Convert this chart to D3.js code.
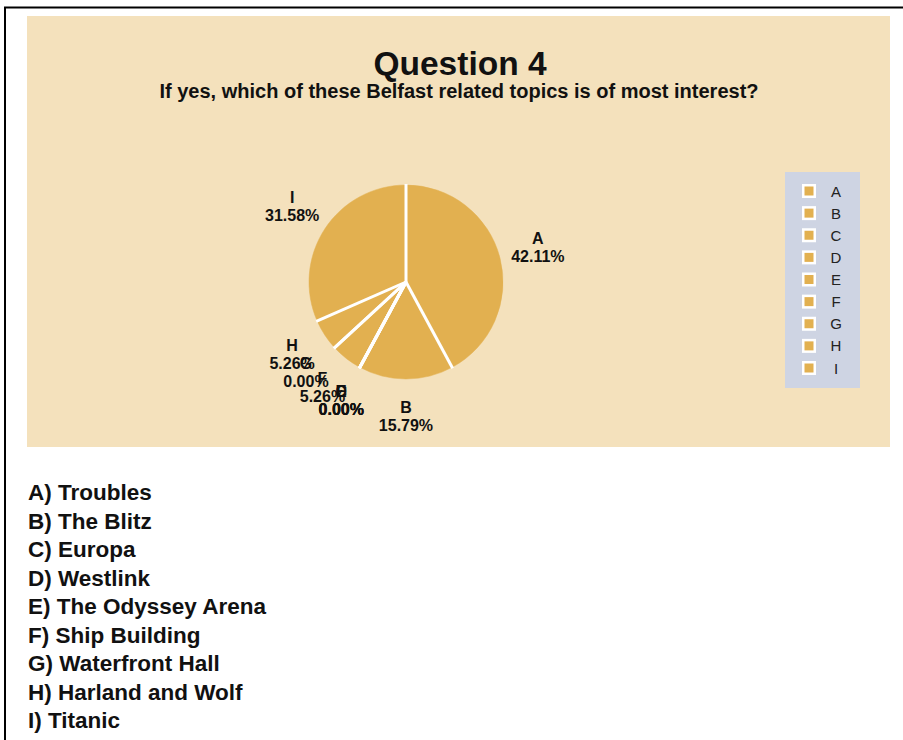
<!DOCTYPE html>
<html>
<head>
<meta charset="utf-8">
<script src="https://cdn.jsdelivr.net/npm/d3@7"></script>
<style>
  html, body { margin: 0; padding: 0; background: #fff; }
  svg { display: block; font-family: "Liberation Sans", Arial, sans-serif; }
</style>
</head>
<body>
<div id="chart"></div>
<script>
// answer letters, their share of votes (%) and the topic each letter stands for
const letters = ['A', 'B', 'C', 'D', 'E', 'F', 'G', 'H', 'I'];
const percents = [42.11, 15.79, 0.00, 0.00, 0.00, 5.26, 0.00, 5.26, 31.58];
const topics = ['Troubles', 'The Blitz', 'Europa', 'Westlink', 'The Odyssey Arena',
                'Ship Building', 'Waterfront Hall', 'Harland and Wolf', 'Titanic'];
const title = 'Question 4';
const subtitle = 'If yes, which of these Belfast related topics is of most interest?';

const width = 903, height = 740;
const sliceColor = '#e2b050';

const svg = d3.select('#chart').append('svg')
    .attr('width', width)
    .attr('height', height);

// page frame (top and left edges only are visible)
svg.append('line').attr('x1', 4).attr('x2', width).attr('y1', 7.5).attr('y2', 7.5)
    .attr('stroke', '#000').attr('stroke-width', 2);
svg.append('line').attr('x1', 5).attr('x2', 5).attr('y1', 7).attr('y2', height)
    .attr('stroke', '#000').attr('stroke-width', 2);

// chart panel
svg.append('rect')
    .attr('x', 27).attr('y', 16)
    .attr('width', 863).attr('height', 431)
    .attr('fill', '#f4e1bc');

svg.append('text')
    .attr('x', 460).attr('y', 75)
    .attr('text-anchor', 'middle')
    .attr('font-size', 33.5).attr('font-weight', 'bold')
    .attr('fill', '#111')
    .text(title);

svg.append('text')
    .attr('x', 459).attr('y', 98)
    .attr('text-anchor', 'middle')
    .attr('font-size', 20).attr('font-weight', 'bold')
    .attr('fill', '#111')
    .text(subtitle);

// pie
const cx = 406, cy = 282, radius = 97;
const data = letters.map((l, i) => ({ letter: l, value: percents[i] }));

const pie = d3.pie().sort(null).value(d => d.value);
const arc = d3.arc().innerRadius(0).outerRadius(radius);
const labelArc = d3.arc().innerRadius(136).outerRadius(136);

const g = svg.append('g').attr('transform', `translate(${cx},${cy})`);
const arcs = pie(data);

g.selectAll('path.slice')
    .data(arcs)
    .enter()
    .append('path')
    .attr('class', 'slice')
    .attr('d', arc)
    .attr('fill', sliceColor)
    .attr('stroke', sliceColor)
    .attr('stroke-width', 0.5);

// white separators between slices (no outline on the rim)
g.selectAll('line.sep')
    .data(arcs)
    .enter()
    .append('line')
    .attr('class', 'sep')
    .attr('x1', 0).attr('y1', 0)
    .attr('x2', d => Math.sin(d.startAngle) * (radius + 1))
    .attr('y2', d => -Math.cos(d.startAngle) * (radius + 1))
    .attr('stroke', '#fff')
    .attr('stroke-width', 3);

const labels = g.selectAll('g.label')
    .data(arcs)
    .enter()
    .append('g')
    .attr('class', 'label')
    .attr('transform', d => {
        const [x, y] = labelArc.centroid(d);
        return `translate(${x},${y})`;
    });

labels.append('text')
    .attr('text-anchor', 'middle')
    .attr('y', -5)
    .attr('font-size', 16).attr('font-weight', 'bold')
    .attr('fill', '#111')
    .text(d => d.data.letter);

labels.append('text')
    .attr('text-anchor', 'middle')
    .attr('y', 13)
    .attr('font-size', 16).attr('font-weight', 'bold')
    .attr('fill', '#111')
    .text(d => d3.format('.2f')(d.data.value) + '%');

// legend
const legend = svg.append('g').attr('transform', 'translate(785,172)');
legend.append('rect')
    .attr('width', 75).attr('height', 216)
    .attr('fill', '#ced4e3');

const ly = d3.scalePoint().domain(letters).range([19, 196]);

const items = legend.selectAll('g.item')
    .data(letters)
    .enter()
    .append('g')
    .attr('class', 'item')
    .attr('transform', d => `translate(0,${ly(d)})`);

items.append('rect')
    .attr('x', 17).attr('y', -7)
    .attr('width', 14).attr('height', 14)
    .attr('fill', '#fff');
items.append('rect')
    .attr('x', 19.5).attr('y', -4.5)
    .attr('width', 9).attr('height', 9)
    .attr('fill', sliceColor);
items.append('text')
    .attr('x', 51).attr('y', 5.5)
    .attr('text-anchor', 'middle')
    .attr('font-size', 15)
    .attr('fill', '#222')
    .text(d => d);

// answer key below the chart
const ky = d3.scalePoint().domain(letters).range([500, 728]);
svg.selectAll('text.key')
    .data(letters)
    .enter()
    .append('text')
    .attr('class', 'key')
    .attr('x', 28)
    .attr('y', d => ky(d))
    .attr('font-size', 22.5).attr('font-weight', 'bold')
    .attr('fill', '#111')
    .text((d, i) => `${d}) ${topics[i]}`);
</script>
</body>
</html>
